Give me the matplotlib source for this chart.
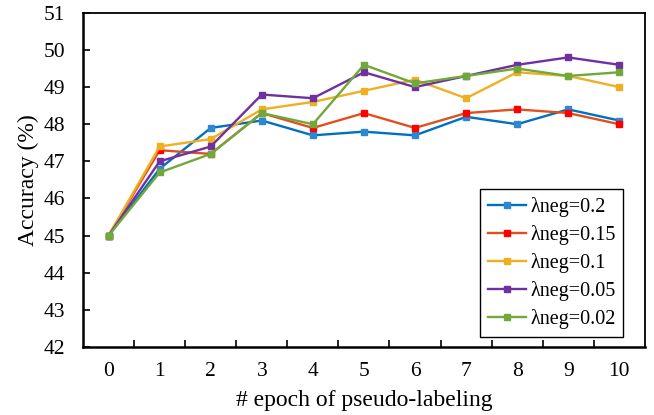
import numpy as np
import matplotlib
matplotlib.use("Agg")
import matplotlib.pyplot as plt

plt.rcParams['font.family'] = ['Liberation Serif', 'DejaVu Serif']

epochs = list(range(11))
labels = ['λneg=0.2', 'λneg=0.15', 'λneg=0.1', 'λneg=0.05', 'λneg=0.02']
acc_02 = [45.0, 46.8, 47.9, 48.1, 47.7, 47.8, 47.7, 48.2, 48.0, 48.4, 48.1]
acc_015 = [45.0, 47.3, 47.2, 48.3, 47.9, 48.3, 47.9, 48.3, 48.4, 48.3, 48.0]
acc_01 = [45.0, 47.4, 47.6, 48.4, 48.6, 48.9, 49.2, 48.7, 49.4, 49.3, 49.0]
acc_005 = [45.0, 47.0, 47.4, 48.8, 48.7, 49.4, 49.0, 49.3, 49.6, 49.8, 49.6]
acc_002 = [45.0, 46.7, 47.2, 48.3, 48.0, 49.6, 49.1, 49.3, 49.5, 49.3, 49.4]

series = [acc_02, acc_015, acc_01, acc_005, acc_002]
line_colors = ['#0070C0', '#E0501E', '#EEB020', '#7030A0', '#70A83A']
marker_colors = ['#2F87D0', '#FF0000', '#EEB020', '#7030A0', '#70A83A']

fig = plt.figure(figsize=(6.54, 4.15), dpi=100)
ax = fig.add_axes([0.127, 0.164, 0.859, 0.805])

for vals, lab, lc, mc in zip(series, labels, line_colors, marker_colors):
	ax.plot(epochs, vals, color=lc, linewidth=1.7, marker='s', markersize=5,
		markerfacecolor=mc, markeredgecolor=mc, label=lab)

ax.set_xlim(-0.5, 10.5)
ax.set_ylim(42, 51)
ax.set_yticks(np.arange(42, 52, 1))
ax.set_xticks(epochs)
ax.set_xticks(np.arange(0.5, 10, 1), minor=True)
ax.tick_params(axis='x', which='major', length=0, pad=11, labelsize=15.5)
ax.tick_params(axis='x', which='minor', direction='in', length=5, width=1.2)
ax.tick_params(axis='y', which='major', direction='in', length=5, width=1.2, pad=13, labelsize=15.5)

for side in ['left', 'bottom']:
	ax.spines[side].set_linewidth(1.8)
for side in ['right', 'top']:
	ax.spines[side].set_linewidth(1.3)

ax.set_xlabel('# epoch of pseudo-labeling', fontsize=17, labelpad=6)
ax.set_ylabel('Accuracy (%)', fontsize=17, labelpad=3)

leg = ax.legend(loc='lower right', bbox_to_anchor=(0.962, 0.03), fontsize=14.5,
	fancybox=False, framealpha=1, edgecolor='black', handlelength=1.9,
	labelspacing=0.4, borderpad=0.4, handletextpad=0.2, borderaxespad=0)
leg.get_frame().set_linewidth(1.0)

fig.savefig('out.png', dpi=100)
